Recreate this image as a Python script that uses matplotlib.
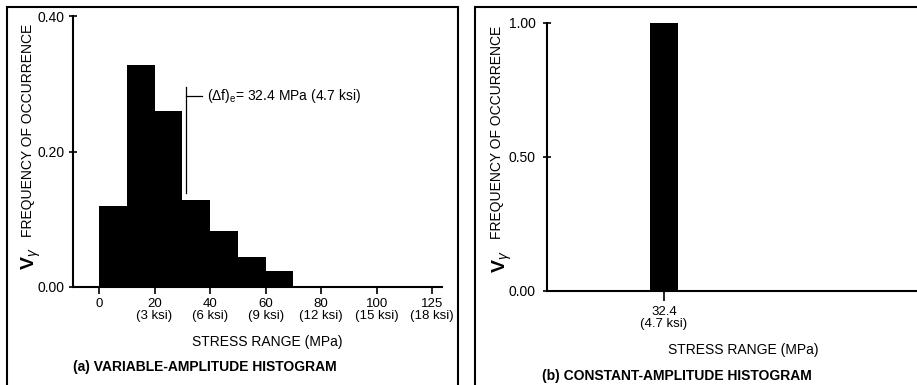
import numpy as np
import matplotlib
matplotlib.use('Agg')
import matplotlib.pyplot as plt
from matplotlib.patches import Rectangle

plt.rcParams['font.family'] = ['Liberation Sans', 'DejaVu Sans']
plt.rcParams['mathtext.fontset'] = 'custom'
plt.rcParams['mathtext.rm'] = 'Liberation Sans'
plt.rcParams['mathtext.it'] = 'Liberation Sans:italic'
plt.rcParams['mathtext.bf'] = 'Liberation Sans:bold'

KSI_TO_MPA = 6.895

# (a) variable-amplitude histogram
bin_edges_ksi = [0, 1.5, 3.0, 4.5, 6.0, 7.5, 9.0, 10.5]
freq_var = [0.12, 0.327, 0.26, 0.129, 0.082, 0.044, 0.024]
eff_stress_mpa = 32.4
eff_stress_ksi = 4.7

tick_ksi = [0, 3, 6, 9, 12, 15, 18]
tick_mpa = ['0', '20', '40', '60', '80', '100', '125']
yticks_a = [0.0, 0.20, 0.40]

# (b) constant-amplitude histogram
const_stress = [32.4]
const_ksi = [4.7]
const_freq = [1.00]
yticks_b = [0.0, 0.50, 1.00]

W, H = 917, 385
fig = plt.figure(figsize=(W / 100, H / 100), dpi=100)


def px_axes(x0, x1, ytop, ybot):
    return fig.add_axes([x0 / W, (H - ybot) / H, (x1 - x0) / W, (ybot - ytop) / H])


def style_axes(ax):
    for s in ['top', 'right']:
        ax.spines[s].set_visible(False)
    for s in ['left', 'bottom']:
        ax.spines[s].set_linewidth(1.5)
    ax.tick_params(axis='y', direction='inout', length=6, width=1.2, pad=3, labelsize=10)
    ax.tick_params(axis='x', direction='out', length=5, width=1.2, pad=3, labelsize=9.5)


# ---- panel (a)
ax1 = px_axes(73, 442, 16, 287)
edges = np.array(bin_edges_ksi) * KSI_TO_MPA
ax1.bar(edges[:-1], freq_var, width=np.diff(edges), align='edge', color='black', linewidth=0)
ax1.set_xlim(-9.7, 127.8)
ax1.set_ylim(0, 0.40)
ax1.set_yticks(yticks_a)
ax1.set_yticklabels([f'{v:.2f}' for v in yticks_a])
ax1.set_xticks(np.array(tick_ksi) * KSI_TO_MPA)
ax1.set_xticklabels([m if k == 0 else f'{m}\n({k} ksi)' for k, m in zip(tick_ksi, tick_mpa)])
style_axes(ax1)
for lbl in ax1.get_xticklabels():
    lbl.set_linespacing(0.95)

# effective stress marker
ax1.plot([eff_stress_mpa, eff_stress_mpa], [0.139, 0.295], color='black', lw=0.9)
ax1.plot([eff_stress_mpa, eff_stress_mpa + 5.8], [0.282, 0.282], color='black', lw=0.9)
ax1.text(eff_stress_mpa + 7.8, 0.282,
         f'(Δf)$_\\mathregular{{e}}$= {eff_stress_mpa} MPa ({eff_stress_ksi} ksi)',
         fontsize=10, va='center', ha='left')

fig.text(28 / W, 1 - 130 / H, 'FREQUENCY OF OCCURRENCE', rotation=90,
         ha='center', va='center', fontsize=10)
fig.text(31 / W, 1 - 259 / H, r'V$_\gamma$', rotation=90,
         ha='center', va='center', fontsize=14, fontweight='bold')
fig.text(267 / W, 1 - 342 / H, 'STRESS RANGE (MPa)', ha='center', va='center', fontsize=10)
fig.text(73 / W, 1 - 367 / H, '(a) VARIABLE-AMPLITUDE HISTOGRAM',
         ha='left', va='center', fontsize=10, fontweight='bold')

# ---- panel (b)
ax2 = px_axes(547, 917, 23, 291)
ax2.bar(const_stress, const_freq, width=1.5 * KSI_TO_MPA, color='black', linewidth=0)
ax2.set_xlim(-11.2, 126.7)
ax2.set_ylim(0, 1.00)
ax2.set_yticks(yticks_b)
ax2.set_yticklabels([f'{v:.2f}' for v in yticks_b])
ax2.set_xticks(const_stress)
ax2.set_xticklabels([f'{s}\n({k} ksi)' for s, k in zip(const_stress, const_ksi)])
style_axes(ax2)
ax2.tick_params(axis='y', pad=5)
ax2.tick_params(axis='x', length=7, pad=4)
for lbl in ax2.get_xticklabels():
    lbl.set_linespacing(0.95)

fig.text(497 / W, 1 - 132 / H, 'FREQUENCY OF OCCURRENCE', rotation=90,
         ha='center', va='center', fontsize=10)
fig.text(502 / W, 1 - 262 / H, r'V$_\gamma$', rotation=90,
         ha='center', va='center', fontsize=14, fontweight='bold')
fig.text(743 / W, 1 - 350 / H, 'STRESS RANGE (MPa)', ha='center', va='center', fontsize=10)
fig.text(542 / W, 1 - 376 / H, '(b) CONSTANT-AMPLITUDE HISTOGRAM',
         ha='left', va='center', fontsize=10, fontweight='bold')

# panel frames
fig.add_artist(Rectangle((7 / W, -0.1), (458 - 7) / W, 0.1 + (H - 7) / H,
                         transform=fig.transFigure, fill=False, lw=1.5, ec='black'))
fig.add_artist(Rectangle((475 / W, -0.1), 0.6, 0.1 + (H - 7) / H,
                         transform=fig.transFigure, fill=False, lw=1.5, ec='black'))

fig.savefig('out.png', dpi=100)
